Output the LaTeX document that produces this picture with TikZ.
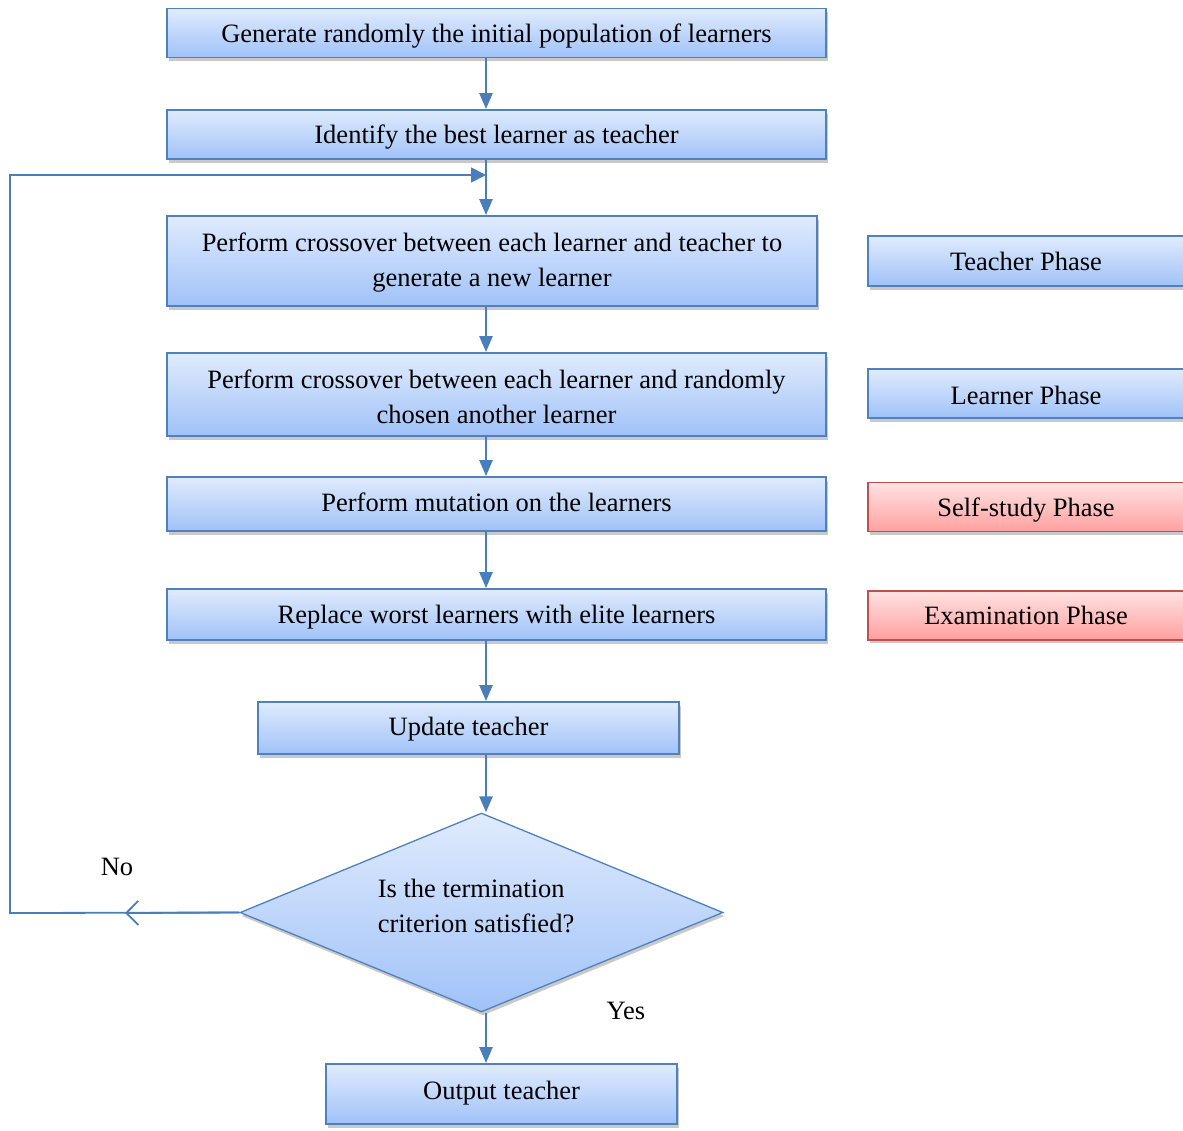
\documentclass[tikz,border=0pt]{standalone}
\usepackage{fontspec}
\setmainfont{Liberation Serif}
\usetikzlibrary{shapes.geometric,arrows.meta,shadows}

\definecolor{edgeblue}{RGB}{79,129,189}
\definecolor{linkblue}{RGB}{74,126,187}
\definecolor{bluetop}{RGB}{224,235,253}
\definecolor{bluebot}{RGB}{160,194,248}
\definecolor{edgered}{RGB}{192,80,77}
\definecolor{redtop}{RGB}{255,226,226}
\definecolor{redbot}{RGB}{255,160,160}

% invisible strut that lifts the first line of a two-line box
\newcommand{\firstline}[1]{\rule{0pt}{#1}}

\begin{document}
\begin{tikzpicture}[x=1pt,y=-1pt,
  font=\fontsize{26.5}{35}\selectfont,
  softshadow/.style={drop shadow={shadow xshift=1.5pt,shadow yshift=-3.5pt,opacity=0.3,fill=black!70}},
  bluebox/.style={draw=edgeblue,line width=1.8pt,top color=bluetop,bottom color=bluebot,
    inner sep=0pt,align=center,softshadow},
  redbox/.style={draw=edgered,line width=1.8pt,top color=redtop,bottom color=redbot,
    inner sep=0pt,align=center,softshadow},
  lift/.style={text height=#1,text depth=0pt},
  lift/.default=19.4pt,
  decision/.style={diamond,draw=edgeblue,line width=1.3pt,top color=bluetop,bottom color=bluebot,
    inner sep=0pt,softshadow},
  flow/.style={draw=linkblue,line width=2.4pt,-{Triangle[length=16pt,width=13pt]}},
  loopback/.style={draw=linkblue,line width=1.8pt,-{Triangle[length=15pt,width=15pt]}},
  openhead/.style={draw=linkblue,line width=1.8pt,-{Straight Barb[length=12pt,width=24pt,line width=1.8pt]}},
  label/.style={inner sep=0pt}
]
\useasboundingbox (0,0) rectangle (1183,1130);

% main column of steps
\node[bluebox,lift,minimum width=659pt,minimum height=49pt] (gen) at (496.5,33)
  {Generate randomly the initial population of learners};
\node[bluebox,lift=18.6pt,minimum width=659pt,minimum height=49pt] (best) at (496.5,134.5)
  {Identify the best learner as teacher};
\node[bluebox,minimum width=650pt,minimum height=90pt] (cross1) at (492,261)
  {\firstline{22.4pt}Perform crossover between each learner and teacher to\\generate a new learner};
\node[bluebox,minimum width=659pt,minimum height=83pt] (cross2) at (496.5,394.5)
  {\firstline{23.6pt}Perform crossover between each learner and randomly\\chosen another learner};
\node[bluebox,lift=15.4pt,minimum width=659pt,minimum height=54pt] (mut) at (496.5,504)
  {Perform mutation on the learners};
\node[bluebox,lift=17.6pt,minimum width=659pt,minimum height=51pt] (repl) at (496.5,614.5)
  {Replace worst learners with elite learners};
\node[bluebox,lift=15.4pt,minimum width=421pt,minimum height=52pt] (upd) at (468.5,728)
  {Update teacher};
\node[decision,minimum width=483pt,minimum height=199pt] (dq) at (481.5,912.5) {};
\node[label,align=left] (dqtext) at (476,906)
  {Is the termination\\criterion satisfied?};
\node[bluebox,lift=10.6pt,minimum width=351pt,minimum height=60pt] (out) at (501.5,1094)
  {Output teacher};

% phase legend on the right
\node[bluebox,lift,minimum width=316pt,minimum height=50pt] (ph1) at (1026,261) {Teacher Phase};
\node[bluebox,lift=20.6pt,minimum width=316pt,minimum height=49pt] (ph2) at (1026,393.7) {Learner Phase};
\node[redbox,lift=18pt,minimum width=316pt,minimum height=49pt] (ph3) at (1026,507) {Self-study Phase};
\node[redbox,lift=17.4pt,minimum width=316pt,minimum height=49pt] (ph4) at (1026,615.3) {Examination Phase};

% branch labels
\node[label] (nolab) at (117,867) {No};
\node[label] (yeslab) at (626,1011) {Yes};

% arrow column and loop corners
\coordinate (ax) at (486,0);
\coordinate (join) at (486,175);
\coordinate (cornerT) at (10,175);
\coordinate (cornerB) at (10,913);
\coordinate (nomark) at (125,913);

% connectors
\draw[flow] (gen.south -| ax) -- (best.north -| ax);
\draw[flow] (best.south -| ax) -- (cross1.north -| ax);
\draw[flow] (cross1.south -| ax) -- (cross2.north -| ax);
\draw[flow] (cross2.south -| ax) -- (mut.north -| ax);
\draw[flow] (mut.south -| ax) -- (repl.north -| ax);
\draw[flow] (repl.south -| ax) -- (upd.north -| ax);
\draw[flow] (upd.south -| ax) -- (dq.north -| ax);
\draw[flow] (dq.south -| ax) -- (out.north -| ax);

% "No" branch back to the loop entry
\draw[loopback] (dq.west) -- (cornerB) -- (cornerT) -- (join);
\draw[openhead] (dq.west) -- (nomark);
\end{tikzpicture}
\end{document}
